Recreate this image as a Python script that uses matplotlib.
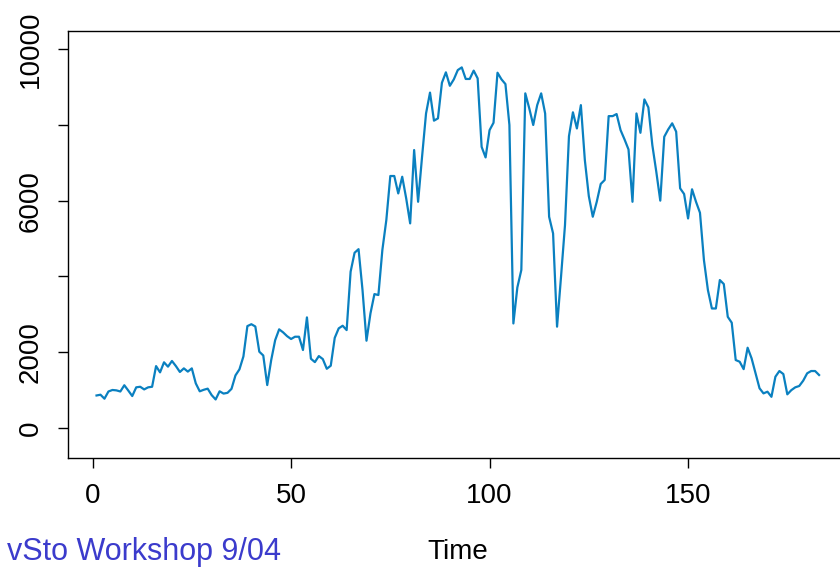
import matplotlib
matplotlib.use('Agg')
import matplotlib.pyplot as plt
import numpy as np

plt.rcParams['font.family'] = ['Liberation Sans', 'DejaVu Sans']

# series (t = 1..183)
time = np.arange(1, 184)
values = [
    860, 880, 775, 965, 1005, 995, 965, 1130, 990, 845,
    1075, 1090, 1020, 1075, 1090, 1635, 1470, 1735, 1620, 1770,
    1635, 1480, 1575, 1490, 1575, 1180, 970, 1010, 1040, 870,
    755, 970, 910, 930, 1035, 1390, 1550, 1890, 2690, 2740,
    2680, 2015, 1915, 1135, 1795, 2320, 2605, 2525, 2425, 2350,
    2410, 2410, 2060, 2920, 1830, 1740, 1900, 1820, 1565, 1645,
    2380, 2630, 2700, 2585, 4125, 4625, 4720, 3640, 2305, 3025,
    3535, 3510, 4700, 5490, 6650, 6650, 6190, 6630, 6060, 5400,
    7335, 5970, 7160, 8300, 8850, 8110, 8170, 9110, 9385, 9030,
    9200, 9445, 9515, 9210, 9210, 9430, 9225, 7420, 7140, 7860,
    8055, 9375, 9200, 9075, 7995, 2760, 3710, 4170, 8830, 8435,
    7995, 8520, 8830, 8300, 5575, 5135, 2675, 3990, 5355, 7700,
    8330, 7905, 8520, 7070, 6120, 5575, 5970, 6440, 6545, 8230,
    8230, 8285, 7860, 7615, 7350, 5970, 8300, 7790, 8670, 8460,
    7465, 6760, 6000, 7685, 7880, 8040, 7820, 6325, 6175, 5530,
    6300, 5970, 5680, 4430, 3640, 3155, 3155, 3905, 3800, 2935,
    2780, 1795, 1750, 1555, 2120, 1840, 1445, 1050, 915, 960,
    825, 1355, 1505, 1425, 890, 1000, 1075, 1110, 1250, 1445,
    1505, 1505, 1400,
]
xticks = [0, 50, 100, 150]
yticks = [0, 2000, 4000, 6000, 8000, 10000]
ylabels = ['0', '2000', '', '6000', '', '10000']

fig = plt.figure(figsize=(8.4, 5.67), dpi=100)
ax = fig.add_axes([0.0805, 0.1922, 0.929, 0.7531])
ax.plot(time, values, color='#0a80c0', lw=1.6)

ax.set_xlim(-6.28, 190.28)
ax.set_ylim(-790, 10475)
ax.set_xticks(xticks)
ax.set_yticks(yticks)
ax.set_yticklabels(ylabels, rotation=90, va='center')
ax.tick_params(axis='both', direction='out', length=7, width=1,
               labelsize=20, colors='black')
ax.tick_params(axis='x', pad=11)
ax.tick_params(axis='y', pad=10)
for s in ax.spines.values():
    s.set_linewidth(1)

fig.text(0.545, 1 - 552 / 567, 'Time', ha='center', va='center', fontsize=20)
fig.text(281 / 840, 1 - 560 / 567, 'vSto Workshop 9/04', ha='right',
         va='baseline', fontsize=22, color='#3b3bcc')

fig.savefig('out.png', dpi=100)
